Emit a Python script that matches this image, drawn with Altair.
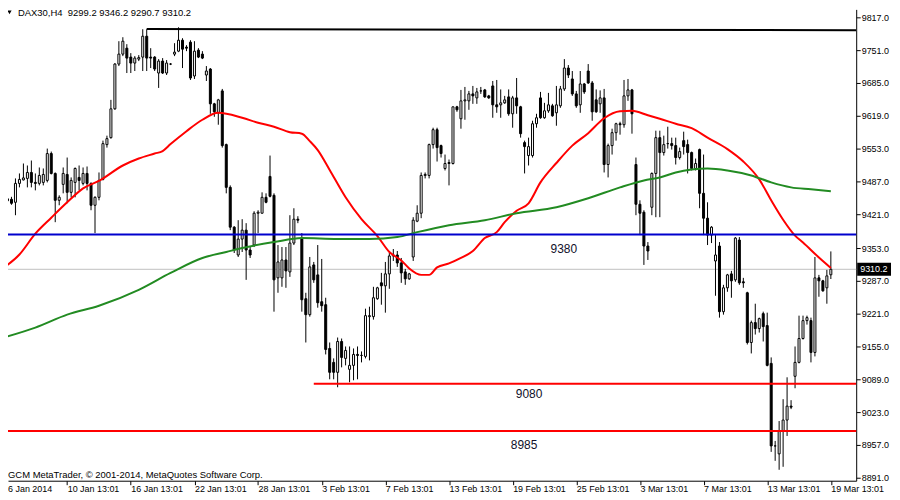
import json
import altair as alt
import pandas as pd

# ---------------- data ----------------
opens = [9465, 9448, 9451, 9445, 9483, 9490, 9493, 9505, 9485, 9483,
         9485, 9489, 9543, 9503, 9449, 9481, 9501, 9465, 9485, 9495,
         9483, 9503, 9483, 9439, 9455, 9491, 9561, 9575, 9633, 9723,
         9743, 9755, 9737, 9725, 9733, 9737, 9779, 9737, 9737, 9705,
         9729, 9705, 9723, 9743, 9749, 9771, 9757, 9767, 9699, 9751,
         9743, 9701, 9713, 9643, 9625, 9669, 9561, 9475, 9395, 9339,
         9371, 9389, 9349, 9359, 9423, 9423, 9455, 9497, 9459, 9293,
         9293, 9329, 9305, 9363, 9411, 9371, 9251, 9219, 9319, 9299,
         9245, 9239, 9151, 9123, 9103, 9165, 9131, 9109, 9117, 9139,
         9137, 9135, 9215, 9215, 9251, 9283, 9277, 9301, 9337, 9339,
         9323, 9305, 9291, 9335, 9407, 9423, 9499, 9499, 9561, 9591,
         9559, 9513, 9525, 9523, 9637, 9613, 9649, 9649, 9663, 9655,
         9669, 9671, 9659, 9679, 9641, 9641, 9645, 9657, 9623, 9655,
         9637, 9565, 9539, 9539, 9603, 9655, 9615, 9629, 9639, 9625,
         9639, 9673, 9715, 9693, 9663, 9641, 9683, 9709, 9685, 9651,
         9643, 9655, 9521, 9559, 9585, 9603, 9601, 9659, 9671, 9521,
         9441, 9425, 9357, 9435, 9503, 9575, 9545, 9563, 9563, 9559,
         9535, 9569, 9561, 9545, 9513, 9551, 9463, 9413, 9379, 9327,
         9357, 9225, 9273, 9301, 9289, 9369, 9285, 9263, 9163, 9203,
         9191, 9221, 9197, 9121, 8955, 8939, 8985, 9007, 9035, 9095,
         9123, 9171, 9207, 9207, 9143, 9293, 9287, 9273, 9299.2]
highs = [9475, 9460, 9456, 9493, 9503, 9523, 9519, 9529, 9503, 9515,
         9513, 9553, 9547, 9505, 9459, 9515, 9535, 9495, 9515, 9519,
         9515, 9517, 9485, 9457, 9505, 9569, 9579, 9651, 9725, 9769,
         9777, 9763, 9745, 9739, 9741, 9793, 9793, 9755, 9739, 9733,
         9735, 9731, 9725, 9765, 9797, 9775, 9761, 9771, 9769, 9755,
         9749, 9719, 9715, 9645, 9653, 9673, 9563, 9479, 9397, 9409,
         9411, 9403, 9355, 9427, 9429, 9465, 9463, 9539, 9463, 9359,
         9355, 9355, 9419, 9433, 9417, 9383, 9263, 9335, 9325, 9359,
         9331, 9253, 9163, 9131, 9173, 9171, 9155, 9155, 9151, 9155,
         9145, 9231, 9235, 9275, 9275, 9303, 9325, 9343, 9351, 9347,
         9333, 9311, 9303, 9415, 9439, 9505, 9505, 9563, 9595, 9595,
         9561, 9541, 9531, 9637, 9639, 9671, 9677, 9669, 9679, 9675,
         9677, 9673, 9661, 9689, 9691, 9672, 9659, 9672, 9659, 9695,
         9639, 9569, 9575, 9609, 9623, 9667, 9645, 9665, 9643, 9679,
         9679, 9733, 9721, 9709, 9669, 9709, 9685, 9723, 9689, 9672,
         9670, 9673, 9563, 9593, 9605, 9607, 9691, 9693, 9673, 9535,
         9449, 9429, 9365, 9505, 9589, 9589, 9579, 9597, 9575, 9575,
         9555, 9587, 9571, 9547, 9533, 9553, 9541, 9445, 9397, 9379,
         9365, 9279, 9301, 9307, 9375, 9375, 9293, 9265, 9207, 9241,
         9213, 9225, 9223, 9133, 8965, 9005, 9049, 9093, 9047, 9155,
         9217, 9217, 9217, 9213, 9335, 9299, 9289, 9309, 9346.2]
lows = [9423, 9430, 9440, 9419, 9475, 9489, 9475, 9475, 9469, 9479,
        9479, 9485, 9501, 9405, 9439, 9463, 9443, 9455, 9455, 9469,
        9479, 9469, 9429, 9383, 9449, 9489, 9555, 9573, 9631, 9719,
        9739, 9705, 9705, 9709, 9729, 9709, 9709, 9715, 9709, 9675,
        9703, 9701, 9721, 9739, 9747, 9715, 9749, 9691, 9693, 9735,
        9733, 9689, 9623, 9617, 9601, 9555, 9463, 9389, 9343, 9335,
        9345, 9289, 9333, 9355, 9383, 9423, 9443, 9455, 9225, 9263,
        9275, 9273, 9295, 9359, 9403, 9225, 9163, 9215, 9283, 9233,
        9225, 9139, 9089, 9089, 9073, 9113, 9117, 9083, 9087, 9089,
        9123, 9131, 9127, 9209, 9249, 9239, 9223, 9271, 9327, 9315,
        9283, 9279, 9289, 9327, 9405, 9413, 9493, 9493, 9553, 9527,
        9535, 9509, 9479, 9521, 9627, 9593, 9611, 9631, 9643, 9643,
        9663, 9655, 9653, 9615, 9625, 9615, 9643, 9619, 9595, 9623,
        9575, 9503, 9519, 9535, 9595, 9613, 9613, 9625, 9617, 9599,
        9635, 9669, 9695, 9659, 9635, 9625, 9663, 9683, 9609, 9625,
        9625, 9505, 9495, 9541, 9569, 9581, 9595, 9649, 9583, 9419,
        9379, 9319, 9329, 9419, 9415, 9415, 9539, 9553, 9551, 9521,
        9531, 9541, 9503, 9509, 9509, 9433, 9379, 9359, 9363, 9257,
        9213, 9219, 9265, 9253, 9285, 9279, 9273, 9159, 9141, 9179,
        9183, 9165, 9115, 8943, 8925, 8907, 8913, 8975, 9029, 9071,
        9121, 9169, 9199, 9123, 9135, 9255, 9265, 9241, 9290.7]
closes = [9449, 9452, 9443, 9483, 9491, 9494, 9505, 9485, 9483, 9499,
          9501, 9543, 9503, 9449, 9455, 9503, 9465, 9489, 9513, 9489,
          9503, 9483, 9439, 9455, 9489, 9563, 9573, 9633, 9723, 9743,
          9769, 9735, 9725, 9735, 9736, 9779, 9735, 9735, 9713, 9729,
          9705, 9725, 9723, 9747, 9771, 9753, 9755, 9695, 9749, 9737,
          9735, 9709, 9643, 9627, 9651, 9559, 9475, 9395, 9349, 9371,
          9389, 9349, 9339, 9423, 9425, 9455, 9445, 9457, 9289, 9325,
          9329, 9307, 9363, 9411, 9409, 9249, 9219, 9315, 9289, 9243,
          9237, 9149, 9103, 9103, 9165, 9133, 9147, 9117, 9139, 9137,
          9137, 9217, 9217, 9253, 9273, 9277, 9301, 9337, 9339, 9323,
          9303, 9291, 9301, 9409, 9423, 9499, 9501, 9561, 9591, 9555,
          9543, 9523, 9523, 9637, 9631, 9649, 9651, 9663, 9659, 9667,
          9669, 9657, 9655, 9641, 9637, 9645, 9651, 9623, 9655, 9639,
          9583, 9557, 9557, 9603, 9615, 9615, 9629, 9641, 9619, 9641,
          9673, 9715, 9701, 9663, 9639, 9683, 9667, 9685, 9627, 9627,
          9655, 9521, 9559, 9585, 9603, 9601, 9659, 9671, 9623, 9441,
          9423, 9357, 9347, 9503, 9575, 9545, 9561, 9563, 9559, 9535,
          9547, 9557, 9545, 9513, 9523, 9463, 9413, 9379, 9395, 9339,
          9225, 9273, 9299, 9287, 9373, 9283, 9283, 9163, 9203, 9191,
          9211, 9195, 9117, 8955, 8955, 8985, 9007, 9035, 9033, 9123,
          9171, 9207, 9213, 9143, 9293, 9287, 9267, 9297, 9310.2]

# red moving average, read at sample bars
red_ma_bars = [0, 4, 8, 12, 16, 20, 24, 30, 34, 38, 40, 42, 46, 50, 54, 60, 64,
               68, 72, 75, 77, 79, 82, 86, 90, 94, 97, 100, 102, 105, 107, 109,
               112, 115, 118, 121, 124, 126, 129, 132, 135, 139, 143, 147, 151,
               155, 158, 162, 165, 169, 173, 177, 182, 186, 190, 193, 196, 199,
               201, 205, 208]
red_ma_vals = [9313, 9340, 9382, 9414, 9445, 9473, 9488, 9519, 9533, 9543, 9548,
               9562, 9588, 9611, 9625, 9615, 9605, 9597, 9586, 9583, 9568, 9550,
               9510, 9455, 9411, 9377, 9345, 9328, 9312, 9299, 9299, 9314, 9322,
               9333, 9347, 9373, 9385, 9405, 9428, 9443, 9485, 9524, 9559, 9584,
               9614, 9628, 9629, 9620, 9613, 9603, 9594, 9575, 9552, 9527, 9491,
               9449, 9410, 9378, 9364, 9334, 9313]
# green moving average, read at sample bars
green_ma_bars = [0, 8, 16, 24, 34, 42, 50, 56, 60, 68, 75, 84, 92, 99, 104, 112,
                 121, 129, 139, 147, 155, 161, 165, 169, 173, 177, 182, 188, 193,
                 198, 203, 208]
green_ma_vals = [9173, 9193, 9219, 9237, 9269, 9303, 9333, 9345, 9353, 9365, 9373,
                 9371, 9371, 9375, 9385, 9399, 9409, 9423, 9435, 9453, 9475, 9489,
                 9495, 9505, 9511, 9513, 9509, 9499, 9485, 9475, 9471, 9467]

# horizontal levels
levels = [9380, 9080, 8985]
level_start_bar = 78          # the 9080 line starts here
top_line_bars = [36, 214.375]
top_line_vals = [9793.5, 9791]

# axis labels
tick_bars = [0, 16, 32, 48, 64, 80, 96, 112, 128, 144, 160, 176, 192, 208]
date_labels = ["6 Jan 2014", "10 Jan 13:01", "16 Jan 13:01", "22 Jan 13:01",
               "28 Jan 13:01", "3 Feb 13:01", "7 Feb 13:01", "13 Feb 13:01",
               "19 Feb 13:01", "25 Feb 13:01", "3 Mar 13:01", "7 Mar 13:01",
               "13 Mar 13:01", "19 Mar 13:01"]
price_ticks = [8891, 8957, 9023, 9089, 9155, 9221, 9287, 9353, 9421, 9487,
               9553, 9619, 9685, 9751, 9817]

symbol = "DAX30,H4"
footer = "GCM MetaTrader, \u00a9 2001-2014, MetaQuotes Software Corp."

# ---------------- chart ----------------
W, H = 853, 474
FONT = "Liberation Sans"
xs = alt.Scale(domain=[1.125, 214.375], nice=False, zero=False)
ys = alt.Scale(domain=[8885, 9833], nice=False, zero=False)

x_axis = alt.Axis(
    orient="bottom", values=tick_bars[1:], title=None, grid=False,
    labelExpr=json.dumps(date_labels) + "[round(datum.value / 16)]",
    labelAlign="left", labelBaseline="top", labelPadding=0, tickSize=4,
    labelFont=FONT, labelFontSize=9, labelColor="black",
    tickColor="black", domainColor="black", labelOverlap=False,
    labelFlush=False, labelBound=False)
y_axis = alt.Axis(
    orient="right", values=price_ticks, format=".1f", title=None, grid=False,
    labelPadding=1, tickSize=4, labelFont=FONT, labelFontSize=9,
    labelColor="black", tickColor="black", domainColor="black",
    labelOverlap=False, labelFlush=False, labelBound=False)


def X(f):
    return alt.X(f, scale=xs, axis=x_axis)


def Y(f):
    return alt.Y(f, scale=ys, axis=y_axis)


bars = pd.DataFrame({"i": list(range(len(opens))), "o": opens, "h": highs,
                     "l": lows, "c": closes})
last = pd.DataFrame({"p": [closes[-1]]})

grey = alt.Chart(last).mark_rule(color="#c0c0c0", strokeWidth=1).encode(
    x=alt.value(0), x2=alt.value(W), y=Y("p:Q"))

wicks = alt.Chart(bars).mark_rule(color="black", strokeWidth=1, clip=True).encode(
    x=X("i:Q"), y=Y("l:Q"), y2="h:Q")

bodies = alt.Chart(bars).transform_calculate(
    xa="datum.i - 0.25", xb="datum.i + 0.25"
).mark_rect(stroke="black", strokeWidth=1, clip=True).encode(
    x=X("xa:Q"), x2="xb:Q", y=Y("o:Q"), y2="c:Q",
    fill=alt.condition("datum.c >= datum.o", alt.value("white"), alt.value("black")))

red_df = pd.DataFrame({"b": red_ma_bars, "v": red_ma_vals})
green_df = pd.DataFrame({"b": green_ma_bars, "v": green_ma_vals})
red_ma = alt.Chart(red_df).mark_line(
    color="#ff0000", strokeWidth=2, clip=True, interpolate="monotone"
).encode(x=X("b:Q"), y=Y("v:Q"))
green_ma = alt.Chart(green_df).mark_line(
    color="#228b22", strokeWidth=2, clip=True, interpolate="monotone"
).encode(x=X("b:Q"), y=Y("v:Q"))

lv = pd.DataFrame({"v": levels, "s": [None, level_start_bar, None]})
blue_line = alt.Chart(lv.iloc[[0]]).mark_rule(color="#0000cd", strokeWidth=2).encode(
    x=alt.value(0), x2=alt.value(W), y=Y("v:Q"))
red_line1 = alt.Chart(lv.iloc[[1]]).mark_rule(color="#ff0000", strokeWidth=2, clip=True).encode(
    x=X("s:Q"), x2=alt.value(W), y=Y("v:Q"))
red_line2 = alt.Chart(lv.iloc[[2]]).mark_rule(color="#ff0000", strokeWidth=2).encode(
    x=alt.value(0), x2=alt.value(W), y=Y("v:Q"))

top_df = pd.DataFrame({"b": top_line_bars, "v": top_line_vals})
top_line = alt.Chart(top_df).mark_line(color="black", strokeWidth=2, clip=True).encode(
    x=X("b:Q"), y=Y("v:Q"))

lab_color = "#10102a"
lab1 = alt.Chart(lv.iloc[[0]]).mark_text(
    font=FONT, fontSize=12, color=lab_color, align="center", baseline="middle", dy=15
).encode(x=alt.value(559), y=Y("v:Q"), text=alt.Text("v:Q", format="d"))
lab2 = alt.Chart(lv.iloc[[1]]).mark_text(
    font=FONT, fontSize=12, color=lab_color, align="center", baseline="middle", dy=10
).encode(x=alt.value(524), y=Y("v:Q"), text=alt.Text("v:Q", format="d"))
lab3 = alt.Chart(lv.iloc[[2]]).mark_text(
    font=FONT, fontSize=12, color=lab_color, align="center", baseline="middle", dy=14
).encode(x=alt.value(519), y=Y("v:Q"), text=alt.Text("v:Q", format="d"))

price_box = alt.Chart(last).mark_rect(color="black", yOffset=-6.5, y2Offset=6.5).encode(
    x=alt.value(W + 1), x2=alt.value(W + 35), y=Y("p:Q"), y2="p:Q")
price_txt = alt.Chart(last).mark_text(
    font=FONT, fontSize=9, color="white", align="left", baseline="middle"
).encode(x=alt.value(W + 4), y=Y("p:Q"), text=alt.Text("p:Q", format=".1f"))

title_text = "{}\u00a0 {:.1f} {:.1f} {:.1f} {:.1f}".format(
    symbol, opens[-1], highs[-1], lows[-1], closes[-1])
title = alt.Chart(pd.DataFrame({"t": [title_text]})).mark_text(
    font=FONT, fontSize=9.5, color="black", align="left", baseline="alphabetic"
).encode(x=alt.value(10), y=alt.value(7), text="t:N")
tri = alt.Chart(pd.DataFrame({"t": [symbol]})).mark_point(
    shape="triangle-down", filled=True, size=18, color="black", opacity=1
).encode(x=alt.value(1.5), y=alt.value(3))
foot = alt.Chart(pd.DataFrame({"t": [footer]})).mark_text(
    font=FONT, fontSize=9.5, color="black", align="left", baseline="alphabetic"
).encode(x=alt.value(0), y=alt.value(471), text="t:N")
first_date = alt.Chart(pd.DataFrame({"t": [date_labels[0]]})).mark_text(
    font=FONT, fontSize=9, color="black", align="left", baseline="top"
).encode(x=alt.value(0), y=alt.value(H + 4), text="t:N")

chart = alt.layer(
    grey, wicks, bodies, red_ma, green_ma, blue_line, red_line1, red_line2,
    top_line, lab1, lab2, lab3, price_box, price_txt, title, tri, foot, first_date
).properties(
    width=W, height=H,
    padding={"left": 0, "top": 0, "right": 36, "bottom": 16},
    autosize=alt.AutoSizeParams(type="none"),
    background="white",
).configure_view(stroke=None)

chart.save("out.html", embed_options={"renderer": "svg", "actions": False})
